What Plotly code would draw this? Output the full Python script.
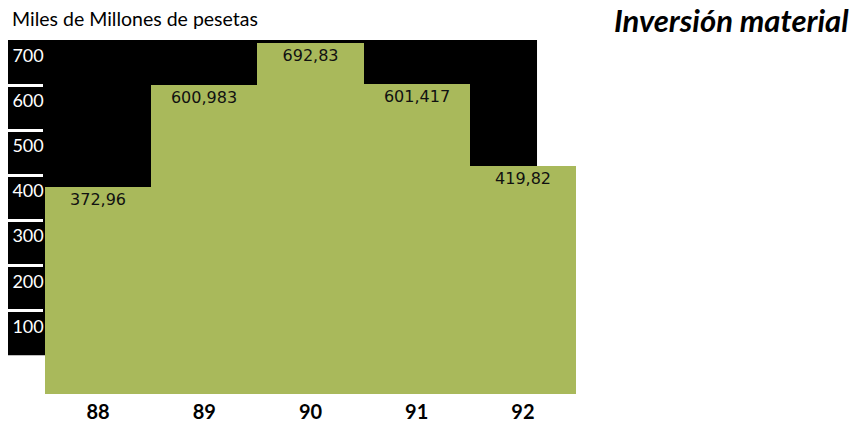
import plotly.graph_objects as go

years = ["88", "89", "90", "91", "92"]
values = [372.96, 600.983, 692.83, 601.417, 419.82]
value_labels = ["372,96", "600,983", "692,83", "601,417", "419,82"]
y_ticks = [100, 200, 300, 400, 500, 600, 700]
y_ticktext = ["100", "200", "300", "400", "500", "600", "700"]

Y_MIN = -86
Y_MAX = 700
GREEN = "#a9b95b"

x_pos = list(range(len(years)))

fig = go.Figure()
fig.add_trace(go.Bar(
    x=x_pos,
    y=[v - Y_MIN for v in values],
    base=[Y_MIN] * len(values),
    width=1.0,
    marker=dict(color=GREEN, line=dict(width=0)),
    text=value_labels,
    textposition="inside",
    insidetextanchor="end",
    textangle=0,
    textfont=dict(family="DejaVu Sans", size=16, color="#111111"),
    hovertext=[f"{y}: {l}" for y, l in zip(years, value_labels)],
    hoverinfo="text",
))

# black background panel behind the bars (value 0 .. 700)
fig.add_shape(type="rect", xref="x", yref="y",
              x0=-0.848, x1=4.133, y0=0, y1=700,
              fillcolor="#000000", line=dict(width=0), layer="below")

fig.update_layout(
    width=852, height=431,
    margin=dict(l=8, r=276, t=40, b=35),
    paper_bgcolor="white",
    plot_bgcolor="rgba(0,0,0,0)",
    showlegend=False,
    bargap=0,
    xaxis=dict(range=[-0.848, 4.5], tickmode="array", tickvals=x_pos,
               ticktext=[f"<b>{y}</b>" for y in years],
               tickfont=dict(family="Lato", size=20, color="#000000"),
               ticklabelstandoff=4,
               showgrid=False, zeroline=False, showline=False, ticks="",
               fixedrange=True),
    yaxis=dict(range=[Y_MIN, Y_MAX], tickmode="array", tickvals=y_ticks,
               ticktext=y_ticktext,
               tickfont=dict(family="Lato", size=18, color="#ffffff"),
               ticks="inside", ticklen=35, tickwidth=3, tickcolor="#ffffff",
               ticklabelposition="inside", ticklabelshift=16,
               ticklabelstandoff=-30,
               showgrid=False, zeroline=False, showline=False,
               fixedrange=True),
    annotations=[
        dict(text="Miles de Millones de pesetas", xref="paper", yref="paper",
             x=2 / 568, y=1 + 22 / 356, xanchor="left", yanchor="middle",
             showarrow=False,
             font=dict(family="Lato", size=19.5, color="#000000")),
        dict(text="<b><i>Inversión material</i></b>", xref="paper", yref="paper",
             x=(851 - 8) / 568, y=1 + 20 / 356, xanchor="right", yanchor="middle",
             showarrow=False,
             font=dict(family="Lato", size=31, color="#000000")),
    ],
)

fig.write_html("out.html", config={"displayModeBar": False},
               post_script="document.body.style.margin='0';")
